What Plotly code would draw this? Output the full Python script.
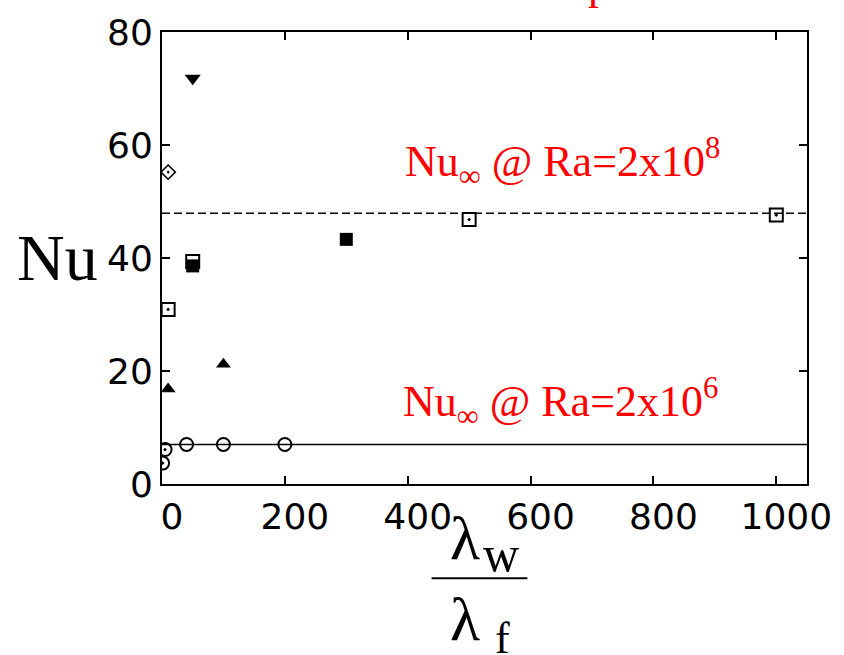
import plotly.graph_objects as go

# ---- data ----
circ_x = [1, 5, 40, 100, 200]
circ_y = [3.7, 6.1, 7.0, 7.0, 7.0]
circ_sym = ["circle-open-dot", "circle-open-dot", "circle-open", "circle-open", "circle-open"]

tri_up_x = [10, 100]
tri_up_y = [16.8, 21.2]

tri_dn_x = [50]
tri_dn_y = [71.8]

dia_x = [10]
dia_y = [55.2]

sq_open_x = [10, 50, 500, 1000]
sq_open_y = [30.9, 39.4, 46.8, 47.6]

sq_fill_x = [50, 300]
sq_fill_y = [38.6, 43.3]

nu_inf_low = 7.0     # Ra = 2x10^6
nu_inf_high = 47.9   # Ra = 2x10^8

x_ticks = [0, 200, 400, 600, 800, 1000]
y_ticks = [0, 20, 40, 60, 80]
x_range = [0, 1050]
y_range = [0, 80]

# ---- layout geometry (screen pixels) ----
W, H = 844, 655
L, R, T, B = 162, 808, 28, 484


def px(x):
    return (x - L) / (R - L)


def py(y):
    return (B - y) / (B - T)


fig = go.Figure()

fig.add_trace(go.Scatter(x=x_range, y=[nu_inf_high] * 2, mode="lines",
                         line=dict(color="black", width=1.5, dash="8px,4px"),
                         showlegend=False, hoverinfo="skip"))
fig.add_trace(go.Scatter(x=x_range, y=[nu_inf_low] * 2, mode="lines",
                         line=dict(color="black", width=1.5),
                         showlegend=False, hoverinfo="skip"))

mk_line = dict(color="black", width=2)
fig.add_trace(go.Scatter(x=circ_x, y=circ_y, mode="markers",
                         marker=dict(symbol=circ_sym, size=13, color="black", line=mk_line),
                         showlegend=False))
fig.add_trace(go.Scatter(x=tri_up_x, y=tri_up_y, mode="markers",
                         marker=dict(symbol="triangle-up", size=13, color="black"),
                         showlegend=False))
fig.add_trace(go.Scatter(x=tri_dn_x, y=tri_dn_y, mode="markers",
                         marker=dict(symbol="triangle-down", size=14, color="black"),
                         showlegend=False))
fig.add_trace(go.Scatter(x=dia_x, y=dia_y, mode="markers",
                         marker=dict(symbol="diamond-open-dot", size=11, color="black",
                                     line=dict(color="black", width=1.5)),
                         showlegend=False))
fig.add_trace(go.Scatter(x=sq_open_x, y=sq_open_y, mode="markers",
                         marker=dict(symbol="square-open-dot", size=13, color="black", line=mk_line),
                         showlegend=False))
fig.add_trace(go.Scatter(x=sq_fill_x, y=sq_fill_y, mode="markers",
                         marker=dict(symbol="square", size=13, color="black"),
                         showlegend=False))

tick_font = dict(family="DejaVu Sans, sans-serif", size=36, color="black")
axis_common = dict(showline=True, linecolor="black", linewidth=2, mirror="ticks",
                   ticks="inside", ticklen=8, tickwidth=1.5, tickcolor="black",
                   showgrid=False, zeroline=False, tickfont=tick_font)

fig.update_xaxes(range=x_range, tickvals=x_ticks, ticklabelshift=10, **axis_common)
fig.update_yaxes(range=y_range, tickvals=y_ticks, **axis_common)

serif = "Liberation Serif, Times New Roman, serif"


def label(text, x, y, size, color="black", xanchor="center"):
    return dict(text=text, x=px(x), y=py(y), xref="paper", yref="paper",
                showarrow=False, font=dict(family=serif, size=size, color=color),
                xanchor=xanchor, yanchor="middle")


ann = [
    # y-axis title
    label("Nu", 57, 255, 66),
    # x-axis title as a fraction
    label("λ", 465, 538, 62),
    label("w", 502, 555, 50),
    label("λ", 465, 620, 62),
    label("f", 503, 640, 44),
    # red reference labels
    label("Nu<sub>∞</sub> @ Ra=2x10<sup>8</sup>", 403, 159, 44, "red", "left"),
    label("Nu<sub>∞</sub> @ Ra=2x10<sup>6</sup>", 401, 401, 44, "red", "left"),
    # partially visible red text at the top edge
    label("p", 600, -20, 44, "red"),
]

shapes = [dict(type="line", xref="paper", yref="paper",
               x0=px(432), x1=px(528), y0=py(579), y1=py(579),
               line=dict(color="black", width=2))]

fig.update_layout(width=W, height=H,
                  margin=dict(l=L, r=W - R, t=T, b=H - B),
                  paper_bgcolor="white", plot_bgcolor="white",
                  annotations=ann, shapes=shapes, showlegend=False)

fig.write_html("out.html", config={"displayModeBar": False},
               post_script="document.body.style.margin='0px';document.body.style.overflow='hidden';")
